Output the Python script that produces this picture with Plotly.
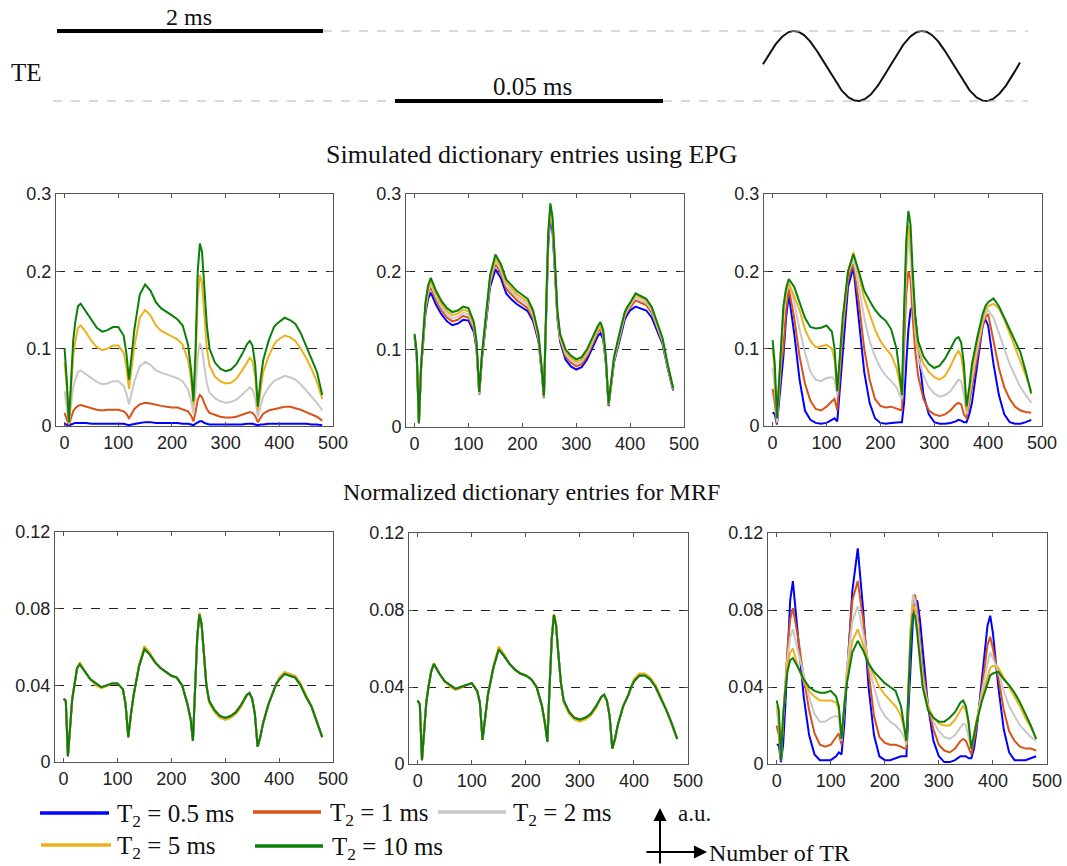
import numpy as np
import plotly.graph_objects as go

W, H = 1067, 866

# ---------------------------------------------------------------- data
TR = [0, 4, 8, 12, 16, 20, 25, 30,
      40, 50, 60, 70, 80, 90, 100, 110,
      115, 120, 125, 130, 140, 150, 160, 170,
      180, 190, 200, 210, 220, 230, 236, 240,
      244, 248, 252, 256, 260, 265, 270, 280,
      290, 300, 310, 320, 330, 340, 345, 350,
      355, 360, 365, 370, 380, 390, 395, 400,
      410, 420, 430, 440, 450, 460, 470, 480]

SERIES_NAMES = ["T<sub>2</sub> = 0.5 ms", "T<sub>2</sub> = 1 ms", "T<sub>2</sub> = 2 ms",
                "T<sub>2</sub> = 5 ms", "T<sub>2</sub> = 10 ms"]
SERIES_COLORS = ["#0000FF", "#D95319", "#C8C8C8", "#EDB120", "#0A7F0A"]

# EPG signal, constant TE = 2 ms
EPG_A_T05 = [0.003, 0.002, 0.000, 0.002, 0.003, 0.004, 0.004, 0.004,
             0.004, 0.003, 0.003, 0.003, 0.003, 0.003, 0.003, 0.003,
             0.002, 0.001, 0.002, 0.003, 0.004, 0.005, 0.005, 0.004,
             0.004, 0.004, 0.004, 0.004, 0.003, 0.003, 0.002, 0.001,
             0.003, 0.005, 0.006, 0.006, 0.004, 0.003, 0.002, 0.002,
             0.002, 0.002, 0.002, 0.002, 0.002, 0.003, 0.003, 0.003,
             0.002, 0.001, 0.002, 0.002, 0.003, 0.003, 0.003, 0.003,
             0.003, 0.003, 0.003, 0.003, 0.003, 0.002, 0.002, 0.001]
EPG_A_T1 = [0.017, 0.010, 0.001, 0.010, 0.019, 0.023, 0.026, 0.027,
            0.025, 0.023, 0.021, 0.020, 0.021, 0.021, 0.021, 0.019,
            0.016, 0.010, 0.016, 0.022, 0.028, 0.030, 0.029, 0.027,
            0.026, 0.025, 0.024, 0.024, 0.022, 0.019, 0.013, 0.006,
            0.018, 0.034, 0.040, 0.037, 0.030, 0.022, 0.017, 0.014,
            0.012, 0.011, 0.011, 0.012, 0.014, 0.017, 0.018, 0.017,
            0.013, 0.005, 0.011, 0.016, 0.020, 0.022, 0.023, 0.024,
            0.025, 0.025, 0.023, 0.021, 0.018, 0.015, 0.012, 0.007]
EPG_A_T2 = [0.045, 0.027, 0.003, 0.027, 0.050, 0.060, 0.070, 0.072,
            0.067, 0.061, 0.057, 0.054, 0.055, 0.058, 0.058, 0.052,
            0.042, 0.028, 0.042, 0.058, 0.077, 0.083, 0.079, 0.072,
            0.069, 0.067, 0.064, 0.062, 0.058, 0.047, 0.032, 0.016,
            0.045, 0.090, 0.107, 0.100, 0.078, 0.055, 0.043, 0.036,
            0.032, 0.030, 0.031, 0.034, 0.040, 0.047, 0.050, 0.047,
            0.036, 0.012, 0.027, 0.038, 0.050, 0.058, 0.060, 0.062,
            0.065, 0.063, 0.060, 0.054, 0.046, 0.038, 0.030, 0.020]
EPG_A_T5 = [0.083, 0.050, 0.004, 0.050, 0.090, 0.110, 0.127, 0.130,
            0.121, 0.110, 0.102, 0.098, 0.100, 0.104, 0.104, 0.095,
            0.077, 0.048, 0.075, 0.103, 0.140, 0.150, 0.143, 0.130,
            0.123, 0.120, 0.116, 0.112, 0.105, 0.085, 0.058, 0.027,
            0.080, 0.165, 0.195, 0.185, 0.145, 0.100, 0.078, 0.064,
            0.058, 0.055, 0.056, 0.061, 0.071, 0.083, 0.088, 0.084,
            0.065, 0.020, 0.048, 0.070, 0.090, 0.105, 0.110, 0.112,
            0.117, 0.115, 0.110, 0.100, 0.088, 0.074, 0.057, 0.035]
EPG_A_T10 = [0.100, 0.060, 0.005, 0.060, 0.110, 0.135, 0.155, 0.158,
             0.148, 0.137, 0.127, 0.122, 0.124, 0.128, 0.128, 0.117,
             0.095, 0.060, 0.090, 0.125, 0.170, 0.183, 0.175, 0.160,
             0.152, 0.148, 0.143, 0.138, 0.130, 0.105, 0.070, 0.032,
             0.100, 0.200, 0.236, 0.225, 0.180, 0.130, 0.100, 0.082,
             0.074, 0.071, 0.073, 0.080, 0.092, 0.106, 0.110, 0.104,
             0.080, 0.025, 0.060, 0.085, 0.110, 0.128, 0.132, 0.135,
             0.140, 0.137, 0.132, 0.120, 0.103, 0.088, 0.070, 0.040]

# EPG signal, constant TE = 0.05 ms
EPG_B_T05 = [0.115, 0.090, 0.005, 0.075, 0.110, 0.146, 0.165, 0.173,
             0.157, 0.145, 0.136, 0.131, 0.133, 0.138, 0.137, 0.122,
             0.100, 0.042, 0.088, 0.120, 0.180, 0.203, 0.192, 0.172,
             0.164, 0.158, 0.153, 0.149, 0.136, 0.110, 0.070, 0.037,
             0.140, 0.235, 0.270, 0.252, 0.205, 0.140, 0.110, 0.087,
             0.078, 0.074, 0.077, 0.087, 0.102, 0.117, 0.121, 0.113,
             0.082, 0.027, 0.055, 0.083, 0.110, 0.138, 0.145, 0.150,
             0.155, 0.152, 0.150, 0.141, 0.125, 0.107, 0.075, 0.047]
EPG_B_T1 = [0.117, 0.091, 0.005, 0.076, 0.113, 0.150, 0.170, 0.180,
            0.163, 0.150, 0.141, 0.136, 0.138, 0.143, 0.141, 0.126,
            0.103, 0.043, 0.090, 0.123, 0.185, 0.210, 0.198, 0.178,
            0.170, 0.163, 0.158, 0.153, 0.140, 0.113, 0.071, 0.038,
            0.143, 0.240, 0.276, 0.258, 0.210, 0.143, 0.113, 0.091,
            0.083, 0.078, 0.081, 0.091, 0.106, 0.122, 0.127, 0.118,
            0.085, 0.028, 0.056, 0.085, 0.114, 0.142, 0.149, 0.154,
            0.163, 0.160, 0.157, 0.147, 0.129, 0.110, 0.077, 0.048]
EPG_B_T2 = [0.118, 0.092, 0.005, 0.077, 0.115, 0.153, 0.174, 0.184,
            0.167, 0.154, 0.145, 0.140, 0.142, 0.147, 0.145, 0.129,
            0.105, 0.043, 0.092, 0.125, 0.188, 0.214, 0.202, 0.182,
            0.174, 0.167, 0.162, 0.157, 0.143, 0.115, 0.072, 0.038,
            0.145, 0.243, 0.280, 0.262, 0.213, 0.145, 0.115, 0.094,
            0.086, 0.081, 0.084, 0.094, 0.109, 0.125, 0.130, 0.120,
            0.086, 0.029, 0.057, 0.086, 0.116, 0.144, 0.151, 0.156,
            0.167, 0.163, 0.160, 0.150, 0.131, 0.111, 0.078, 0.049]
EPG_B_T5 = [0.118, 0.093, 0.005, 0.078, 0.117, 0.156, 0.178, 0.188,
            0.171, 0.158, 0.149, 0.144, 0.146, 0.151, 0.149, 0.132,
            0.107, 0.044, 0.093, 0.127, 0.191, 0.218, 0.206, 0.186,
            0.178, 0.171, 0.166, 0.161, 0.146, 0.117, 0.073, 0.039,
            0.147, 0.246, 0.284, 0.266, 0.216, 0.147, 0.117, 0.097,
            0.089, 0.084, 0.087, 0.097, 0.112, 0.127, 0.132, 0.122,
            0.088, 0.029, 0.058, 0.088, 0.118, 0.146, 0.153, 0.158,
            0.170, 0.166, 0.163, 0.153, 0.133, 0.113, 0.079, 0.049]
EPG_B_T10 = [0.120, 0.095, 0.005, 0.080, 0.120, 0.160, 0.182, 0.192,
             0.175, 0.162, 0.153, 0.148, 0.150, 0.155, 0.153, 0.135,
             0.110, 0.045, 0.095, 0.130, 0.195, 0.222, 0.210, 0.190,
             0.182, 0.175, 0.170, 0.165, 0.150, 0.120, 0.075, 0.040,
             0.150, 0.250, 0.288, 0.270, 0.220, 0.150, 0.120, 0.100,
             0.092, 0.087, 0.090, 0.100, 0.115, 0.130, 0.135, 0.125,
             0.090, 0.030, 0.060, 0.090, 0.120, 0.148, 0.155, 0.160,
             0.172, 0.168, 0.165, 0.155, 0.135, 0.115, 0.080, 0.050]

# EPG signal, sinusoidal TE
EPG_C_T05 = [0.018, 0.015, 0.002, 0.030, 0.060, 0.090, 0.140, 0.170,
             0.120, 0.060, 0.020, 0.008, 0.004, 0.003, 0.004, 0.008,
             0.010, 0.006, 0.050, 0.100, 0.180, 0.205, 0.140, 0.070,
             0.030, 0.010, 0.004, 0.003, 0.004, 0.005, 0.005, 0.005,
             0.030, 0.080, 0.125, 0.150, 0.155, 0.140, 0.100, 0.040,
             0.015, 0.005, 0.003, 0.003, 0.004, 0.006, 0.008, 0.007,
             0.005, 0.005, 0.015, 0.030, 0.080, 0.130, 0.138, 0.130,
             0.080, 0.040, 0.015, 0.005, 0.003, 0.003, 0.005, 0.008]
EPG_C_T1 = [0.048, 0.030, 0.003, 0.040, 0.080, 0.100, 0.150, 0.178,
            0.140, 0.090, 0.055, 0.033, 0.022, 0.020, 0.025, 0.032,
            0.035, 0.020, 0.070, 0.120, 0.190, 0.210, 0.160, 0.100,
            0.060, 0.035, 0.026, 0.024, 0.025, 0.022, 0.021, 0.020,
            0.100, 0.170, 0.200, 0.190, 0.140, 0.095, 0.065, 0.035,
            0.020, 0.015, 0.013, 0.015, 0.020, 0.028, 0.030, 0.028,
            0.015, 0.010, 0.030, 0.050, 0.090, 0.130, 0.140, 0.145,
            0.110, 0.075, 0.050, 0.035, 0.025, 0.020, 0.018, 0.017]
EPG_C_T2 = [0.075, 0.050, 0.005, 0.050, 0.105, 0.140, 0.170, 0.185,
            0.160, 0.125, 0.095, 0.070, 0.060, 0.058, 0.062, 0.063,
            0.060, 0.040, 0.085, 0.130, 0.200, 0.215, 0.180, 0.140,
            0.110, 0.090, 0.075, 0.065, 0.058, 0.050, 0.040, 0.035,
            0.130, 0.200, 0.245, 0.220, 0.170, 0.120, 0.090, 0.065,
            0.050, 0.042, 0.038, 0.040, 0.045, 0.055, 0.060, 0.058,
            0.040, 0.015, 0.040, 0.060, 0.100, 0.135, 0.145, 0.150,
            0.140, 0.120, 0.100, 0.080, 0.065, 0.050, 0.040, 0.030]
EPG_C_T5 = [0.100, 0.070, 0.010, 0.055, 0.115, 0.150, 0.175, 0.185,
            0.168, 0.150, 0.125, 0.110, 0.102, 0.103, 0.105, 0.100,
            0.085, 0.045, 0.088, 0.130, 0.200, 0.225, 0.195, 0.165,
            0.145, 0.125, 0.110, 0.100, 0.092, 0.075, 0.055, 0.040,
            0.140, 0.220, 0.260, 0.240, 0.190, 0.130, 0.100, 0.080,
            0.070, 0.063, 0.060, 0.065, 0.077, 0.092, 0.097, 0.090,
            0.065, 0.020, 0.045, 0.070, 0.110, 0.140, 0.150, 0.155,
            0.158, 0.152, 0.138, 0.120, 0.102, 0.085, 0.065, 0.045]
EPG_C_T10 = [0.111, 0.080, 0.010, 0.060, 0.120, 0.155, 0.178, 0.190,
             0.180, 0.160, 0.140, 0.128, 0.126, 0.127, 0.130, 0.122,
             0.100, 0.045, 0.090, 0.140, 0.200, 0.222, 0.200, 0.175,
             0.162, 0.150, 0.142, 0.136, 0.125, 0.100, 0.065, 0.040,
             0.150, 0.240, 0.278, 0.260, 0.200, 0.140, 0.110, 0.090,
             0.080, 0.075, 0.078, 0.087, 0.100, 0.113, 0.115, 0.108,
             0.080, 0.025, 0.050, 0.080, 0.115, 0.145, 0.155, 0.160,
             0.165, 0.155, 0.140, 0.125, 0.110, 0.095, 0.070, 0.042]

# Normalized entries, TE = 2 ms (all T2 curves coincide)
NORM_A = [0.033, 0.032, 0.003, 0.020, 0.033, 0.040, 0.049, 0.051,
          0.047, 0.043, 0.041, 0.039, 0.040, 0.041, 0.041, 0.038,
          0.030, 0.013, 0.025, 0.035, 0.050, 0.059, 0.056, 0.052,
          0.049, 0.047, 0.045, 0.044, 0.040, 0.030, 0.022, 0.011,
          0.040, 0.065, 0.077, 0.072, 0.058, 0.040, 0.032, 0.027,
          0.024, 0.023, 0.024, 0.026, 0.030, 0.035, 0.036, 0.033,
          0.025, 0.008, 0.013, 0.020, 0.030, 0.037, 0.041, 0.043,
          0.046, 0.045, 0.044, 0.040, 0.034, 0.029, 0.021, 0.013]
NORM_A_T5 = [0.033, 0.032, 0.003, 0.020, 0.033, 0.040, 0.049, 0.052,
             0.047, 0.043, 0.040, 0.0385, 0.0395, 0.041, 0.041, 0.038,
             0.030, 0.013, 0.025, 0.035, 0.051, 0.0605, 0.057, 0.052,
             0.049, 0.047, 0.045, 0.044, 0.040, 0.030, 0.022, 0.011,
             0.040, 0.066, 0.078, 0.073, 0.058, 0.040, 0.031, 0.026,
             0.023, 0.022, 0.023, 0.025, 0.029, 0.035, 0.036, 0.033,
             0.025, 0.008, 0.013, 0.020, 0.030, 0.037, 0.041, 0.044,
             0.047, 0.046, 0.045, 0.041, 0.035, 0.029, 0.021, 0.013]

# Normalized entries, TE = 0.05 ms
NORM_B = [0.033, 0.031, 0.002, 0.020, 0.032, 0.040, 0.048, 0.052,
          0.047, 0.043, 0.041, 0.039, 0.040, 0.041, 0.042, 0.038,
          0.032, 0.0125, 0.024, 0.036, 0.050, 0.0596, 0.056, 0.052,
          0.049, 0.047, 0.046, 0.044, 0.040, 0.030, 0.020, 0.0116,
          0.040, 0.065, 0.0774, 0.072, 0.058, 0.042, 0.033, 0.027,
          0.024, 0.023, 0.024, 0.026, 0.030, 0.035, 0.036, 0.033,
          0.025, 0.008, 0.013, 0.020, 0.030, 0.036, 0.040, 0.043,
          0.046, 0.046, 0.044, 0.040, 0.034, 0.028, 0.021, 0.013]
NORM_B_T5 = [0.033, 0.031, 0.002, 0.020, 0.032, 0.040, 0.048, 0.0525,
             0.047, 0.043, 0.040, 0.0385, 0.0395, 0.041, 0.042, 0.038,
             0.032, 0.0125, 0.024, 0.036, 0.051, 0.061, 0.057, 0.052,
             0.049, 0.047, 0.046, 0.044, 0.040, 0.030, 0.020, 0.0116,
             0.040, 0.066, 0.078, 0.073, 0.058, 0.042, 0.032, 0.026,
             0.023, 0.022, 0.023, 0.025, 0.029, 0.035, 0.036, 0.033,
             0.025, 0.008, 0.013, 0.020, 0.030, 0.036, 0.040, 0.044,
             0.047, 0.047, 0.045, 0.041, 0.035, 0.028, 0.021, 0.013]

# Normalized entries, sinusoidal TE
NORM_C_T05 = [0.010, 0.010, 0.001, 0.010, 0.030, 0.055, 0.085, 0.095,
              0.065, 0.035, 0.015, 0.005, 0.002, 0.002, 0.002, 0.004,
              0.006, 0.005, 0.020, 0.045, 0.090, 0.112, 0.080, 0.040,
              0.015, 0.004, 0.002, 0.002, 0.003, 0.004, 0.004, 0.004,
              0.030, 0.055, 0.075, 0.083, 0.085, 0.075, 0.060, 0.030,
              0.012, 0.004, 0.001, 0.001, 0.002, 0.004, 0.004, 0.004,
              0.003, 0.003, 0.008, 0.018, 0.045, 0.072, 0.077, 0.068,
              0.040, 0.018, 0.006, 0.002, 0.002, 0.002, 0.003, 0.004]
NORM_C_T1 = [0.020, 0.015, 0.002, 0.020, 0.040, 0.060, 0.075, 0.081,
             0.065, 0.045, 0.028, 0.016, 0.010, 0.009, 0.010, 0.014,
             0.016, 0.010, 0.030, 0.050, 0.085, 0.095, 0.075, 0.048,
             0.025, 0.014, 0.011, 0.010, 0.010, 0.009, 0.008, 0.008,
             0.040, 0.070, 0.085, 0.088, 0.080, 0.065, 0.050, 0.030,
             0.018, 0.010, 0.007, 0.006, 0.008, 0.012, 0.013, 0.012,
             0.008, 0.005, 0.012, 0.020, 0.040, 0.062, 0.066, 0.060,
             0.045, 0.028, 0.017, 0.012, 0.009, 0.008, 0.008, 0.007]
NORM_C_T2 = [0.028, 0.020, 0.002, 0.025, 0.040, 0.055, 0.066, 0.070,
             0.058, 0.046, 0.035, 0.026, 0.022, 0.022, 0.024, 0.025,
             0.024, 0.012, 0.030, 0.050, 0.074, 0.082, 0.068, 0.052,
             0.040, 0.030, 0.025, 0.022, 0.020, 0.017, 0.014, 0.010,
             0.045, 0.072, 0.088, 0.085, 0.075, 0.060, 0.045, 0.030,
             0.022, 0.017, 0.014, 0.013, 0.015, 0.019, 0.021, 0.020,
             0.014, 0.008, 0.015, 0.022, 0.038, 0.052, 0.058, 0.055,
             0.048, 0.038, 0.030, 0.025, 0.020, 0.017, 0.014, 0.012]
NORM_C_T5 = [0.030, 0.025, 0.002, 0.025, 0.040, 0.052, 0.058, 0.060,
             0.050, 0.043, 0.038, 0.035, 0.033, 0.033, 0.033, 0.032,
             0.028, 0.013, 0.030, 0.045, 0.064, 0.070, 0.062, 0.053,
             0.046, 0.040, 0.036, 0.033, 0.030, 0.025, 0.018, 0.011,
             0.045, 0.070, 0.083, 0.080, 0.070, 0.055, 0.042, 0.030,
             0.024, 0.021, 0.020, 0.020, 0.023, 0.028, 0.030, 0.028,
             0.020, 0.008, 0.015, 0.023, 0.035, 0.045, 0.050, 0.051,
             0.050, 0.045, 0.040, 0.035, 0.030, 0.024, 0.019, 0.013]
NORM_C_T10 = [0.033, 0.028, 0.002, 0.025, 0.038, 0.048, 0.054, 0.055,
              0.050, 0.044, 0.040, 0.038, 0.037, 0.037, 0.038, 0.035,
              0.030, 0.013, 0.030, 0.042, 0.058, 0.064, 0.059, 0.052,
              0.048, 0.045, 0.042, 0.040, 0.038, 0.030, 0.020, 0.012,
              0.040, 0.065, 0.078, 0.077, 0.068, 0.052, 0.040, 0.028,
              0.024, 0.022, 0.022, 0.024, 0.027, 0.032, 0.033, 0.030,
              0.022, 0.008, 0.015, 0.022, 0.033, 0.042, 0.046, 0.047,
              0.048, 0.044, 0.041, 0.037, 0.032, 0.026, 0.020, 0.013]

PANELS = [
    [EPG_A_T05, EPG_A_T1, EPG_A_T2, EPG_A_T5, EPG_A_T10],
    [EPG_B_T05, EPG_B_T1, EPG_B_T2, EPG_B_T5, EPG_B_T10],
    [EPG_C_T05, EPG_C_T1, EPG_C_T2, EPG_C_T5, EPG_C_T10],
    [NORM_A, NORM_A, NORM_A, NORM_A_T5, NORM_A],
    [NORM_B, NORM_B, NORM_B, NORM_B_T5, NORM_B],
    [NORM_C_T05, NORM_C_T1, NORM_C_T2, NORM_C_T5, NORM_C_T10],
]

X_TICKS = [0, 100, 200, 300, 400, 500]
Y_TICKS_TOP = [0, 0.1, 0.2, 0.3]
Y_TICKS_BOTTOM = [0, 0.04, 0.08, 0.12]
Y_TICKTEXT_TOP = ["0", "0.1", "0.2", "0.3"]
Y_TICKTEXT_BOTTOM = ["0", "0.04", "0.08", "0.12"]

# ---------------------------------------------------------------- layout helpers
SERIF = "Liberation Serif, Times New Roman, serif"
SANS = "Liberation Sans, Arial, sans-serif"


def fx(px):
    return px / W


def fy(py):
    return 1 - py / H


# plot-area boxes in pixels (left, right, top, bottom)
BOXES = [
    (56, 333, 194, 426), (406, 684, 194, 427), (764, 1042, 194, 426),
    (55, 333, 532, 762), (409, 688, 533, 764), (768, 1047, 533, 764),
]

fig = go.Figure()
layout = {}

for i, (box, series) in enumerate(zip(BOXES, PANELS)):
    n = i + 1
    xa = "x" if n == 1 else f"x{n}"
    ya = "y" if n == 1 else f"y{n}"
    l, r, t, b = box
    top_row = i < 3
    common = dict(
        showline=True, linecolor="#555555", linewidth=1, mirror="ticks",
        ticks="inside", ticklen=4, tickcolor="#555555",
        tickfont=dict(family=SANS, size=18, color="#222222"),
        zeroline=False, automargin=False,
    )
    layout["xaxis" if n == 1 else f"xaxis{n}"] = dict(
        domain=[fx(l), fx(r)], anchor=ya, range=[-16, 500],
        tickmode="array", tickvals=X_TICKS, showgrid=False, **common)
    layout["yaxis" if n == 1 else f"yaxis{n}"] = dict(
        domain=[fy(b), fy(t)], anchor=xa,
        range=[0, 0.3] if top_row else [0, 0.12],
        tickmode="array",
        tickvals=Y_TICKS_TOP if top_row else Y_TICKS_BOTTOM,
        ticktext=Y_TICKTEXT_TOP if top_row else Y_TICKTEXT_BOTTOM,
        showgrid=True, gridcolor="#222222", gridwidth=1, griddash="dash",
        **common)
    for name, color, vals in zip(SERIES_NAMES, SERIES_COLORS, series):
        fig.add_trace(go.Scatter(
            x=TR, y=vals, mode="lines", name=name, showlegend=False,
            line=dict(color=color, width=2), xaxis=xa, yaxis=ya))

# overlay axis in pixel units for the TE sketch
layout["xaxis7"] = dict(domain=[0, 1], range=[0, W], visible=False,
                        anchor="y7", automargin=False)
layout["yaxis7"] = dict(domain=[0, 1], range=[H, 0], visible=False,
                        anchor="x7", automargin=False)

# sinusoidal TE schedule sketch
SINE_START, SINE_END = 763, 1020
SINE_PEAK_X, SINE_PERIOD = 794, 128
TE_HIGH_Y, TE_LOW_Y = 31, 101
sx = np.linspace(SINE_START, SINE_END, 300)
mid = (TE_HIGH_Y + TE_LOW_Y) / 2
amp = (TE_LOW_Y - TE_HIGH_Y) / 2
sy = mid - amp * np.cos(2 * np.pi * (sx - SINE_PEAK_X) / SINE_PERIOD)
fig.add_trace(go.Scatter(x=sx, y=sy, mode="lines", showlegend=False,
                         line=dict(color="#111111", width=2),
                         xaxis="x7", yaxis="y7", hoverinfo="skip"))

shapes = []


def hline(x0, x1, y, color, width, dash="solid"):
    shapes.append(dict(type="line", xref="paper", yref="paper",
                       x0=fx(x0), x1=fx(x1), y0=fy(y), y1=fy(y),
                       line=dict(color=color, width=width, dash=dash)))


# TE sketch: constant levels and guide lines
hline(323, 1028, TE_HIGH_Y, "#b4b4b4", 1, "dash")
hline(53, 395, TE_LOW_Y, "#b4b4b4", 1, "dash")
hline(663, 1028, TE_LOW_Y, "#b4b4b4", 1, "dash")
hline(57, 323, TE_HIGH_Y, "#000000", 4)
hline(395, 663, TE_LOW_Y, "#000000", 4)

# legend swatches
LEGEND_ITEMS = [
    (40, 109, 813, 115), (253, 321, 812, 328), (438, 506, 812, 511),
    (41, 111, 845, 115), (255, 323, 846, 330),
]
annotations = []
for (x0, x1, y, tx), name, color in zip(LEGEND_ITEMS, SERIES_NAMES, SERIES_COLORS):
    hline(x0, x1, y, color, 3.5)
    annotations.append(dict(xref="paper", yref="paper", x=fx(tx), y=fy(y + 2),
                            text=name, showarrow=False, xanchor="left",
                            yanchor="middle",
                            font=dict(family=SERIF, size=25, color="#111111")))

fig.update_layout(shapes=shapes)


def text(x, y, s, size=24, anchor="center"):
    annotations.append(dict(xref="paper", yref="paper", x=fx(x), y=fy(y),
                            text=s, showarrow=False, xanchor=anchor,
                            yanchor="middle",
                            font=dict(family=SERIF, size=size, color="#111111")))


text(189, 17, "2 ms", 24)
text(532, 87, "0.05 ms", 25)
text(26, 73, "TE", 25, "center")
text(532, 155, "Simulated dictionary entries using EPG", 26)
text(531, 492, "Normalized dictionary entries for MRF", 24)
text(676, 813, "a.u.", 23, "left")
text(707, 853, "Number of TR", 24, "left")

# axis arrows
annotations.append(dict(xref="paper", yref="paper", x=fx(660), y=fy(808),
                        ax=0, ay=57, axref="pixel", ayref="pixel", text="",
                        showarrow=True, arrowhead=2, arrowsize=1.3,
                        arrowwidth=2, arrowcolor="#000000"))
annotations.append(dict(xref="paper", yref="paper", x=fx(707), y=fy(852),
                        ax=-62, ay=0, axref="pixel", ayref="pixel", text="",
                        showarrow=True, arrowhead=2, arrowsize=1.3,
                        arrowwidth=2, arrowcolor="#000000"))

fig.update_layout(
    **layout,
    template="none",
    annotations=annotations,
    width=W, height=H,
    margin=dict(l=0, r=0, t=0, b=0, pad=0),
    paper_bgcolor="white", plot_bgcolor="rgba(0,0,0,0)",
    showlegend=False,
)

fig.write_html("out.html")
